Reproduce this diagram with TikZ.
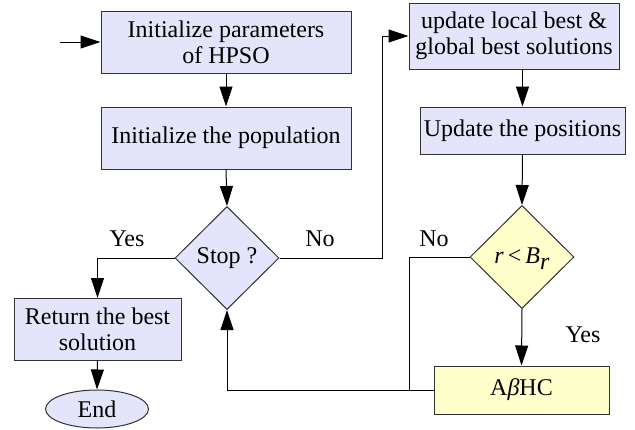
\documentclass[tikz,border=0pt]{standalone}
\usepackage{fontspec}
\setmainfont{LiberationSerif}[Extension=.ttf,UprightFont=*-Regular,ItalicFont=*-Italic,BoldFont=*-Bold,BoldItalicFont=*-BoldItalic]
\usetikzlibrary{shapes.geometric,arrows.meta}
\definecolor{bluefill}{RGB}{228,228,250}
\definecolor{yelfill}{RGB}{255,255,204}
\definecolor{edge}{RGB}{50,50,50}
\begin{document}
\begin{tikzpicture}[x=1pt,y=-1pt,
  every node/.style={font=\rmfamily\fontsize{24}{26}\selectfont},
  procbox/.style={draw=edge,line width=1pt,fill=bluefill,rectangle,inner sep=0pt,align=center},
  decis/.style={draw=edge,line width=1pt,fill=bluefill,diamond,shape aspect=1,inner sep=0pt,minimum width=104pt,minimum height=103pt},
  conn/.style={line width=1pt,-{Triangle[length=20pt,width=13pt]}},
  plain/.style={line width=1pt},
  lbl/.style={inner sep=0pt}]
\useasboundingbox (0,0) rectangle (635,429);
\node[procbox,minimum width=250pt,minimum height=62pt] (b1) at (226,42) {Initialize parameters\\of HPSO};
\node[procbox,minimum width=250pt,minimum height=62pt] (b2) at (226,138) {Initialize the population};
\node[decis] (stop) at (227,258) {Stop ?};
\node[procbox,minimum width=167pt,minimum height=62pt] (ret) at (97.5,329.5) {Return the best\\solution};
\node[procbox,ellipse,minimum width=103pt,minimum height=38pt] (end) at (97,409) {End};
\node[procbox,minimum width=210pt,minimum height=66pt] (b3) at (514,36) {update local best \&\\global best solutions};
\node[procbox,minimum width=205pt,minimum height=47pt] (b4) at (522.5,130.5) {Update the positions};
\node[decis,fill=yelfill] (d2) at (522,257) {};
\node[lbl] (d2t) at (522,259) {\textit{r}\,<\,\textit{B}\raisebox{-6pt}{\textit{r}}};
\node[procbox,fill=yelfill,minimum width=175pt,minimum height=48pt] (ab) at (521.5,390) {A\textit{β}HC};
\coordinate (in) at (60,42);
\coordinate (up) at (382,258);
\coordinate (j) at (409,390);
\node[lbl] (yes1) at (127,239) {Yes};
\node[lbl] (no1) at (320,239) {No};
\node[lbl] (no2) at (434,239) {No};
\node[lbl] (yes2) at (583,335) {Yes};
\draw[conn] (in) -- (b1.west);
\draw[conn] (b1.south) -- (b2.north);
\draw[conn] (b2.south) -- (stop.north);
\draw[conn] (stop.west) -| (ret.north);
\draw[conn] (ret.south) -- (end.north);
\draw[conn] (stop.east) -- (up) |- (b3.west);
\draw[conn] (b4.north |- b3.south) -- (b4.north);
\draw[conn] (b4.south) -- (d2.north);
\draw[conn] (d2.south) -- (ab.north);
\draw[plain] (d2.west) -| (j);
\draw[conn] (ab.west) -| (stop.south);
\end{tikzpicture}
\end{document}
